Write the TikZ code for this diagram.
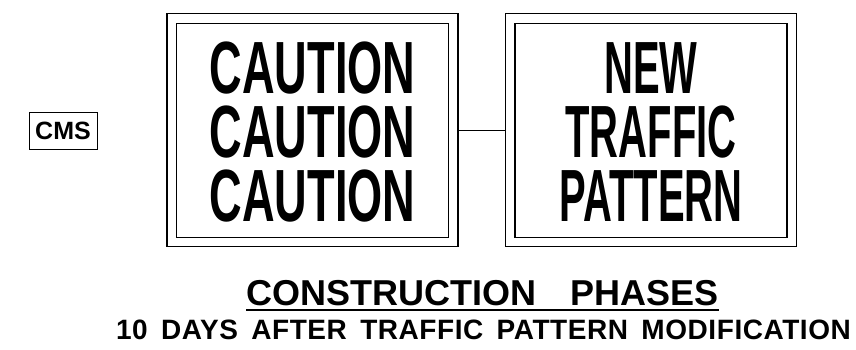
\documentclass[tikz,border=0pt]{standalone}
\usepackage{fontspec}
\setmainfont{Liberation Sans}
\newfontfamily\cadfont[LetterSpace=2, WordSpace=1.6]{Liberation Sans}
\usepackage{tikz}
\usetikzlibrary{positioning}

\begin{document}
\begin{tikzpicture}[
  x=1pt, y=-1pt,
  node distance=47pt,
  sign/.style={draw, double, double distance=8.2pt, line width=1.3pt,
               outer sep=5pt, minimum width=281.5pt, minimum height=223.5pt},
  signtext/.style={align=center, inner sep=0pt,
                   font=\fontsize{74}{64}\selectfont\bfseries},
  cmsbox/.style={draw, line width=1pt, minimum width=68pt, minimum height=37pt,
                 inner sep=0pt, font=\fontsize{25}{25}\selectfont\bfseries},
  link/.style={line width=1pt},
]
\useasboundingbox (0,0) rectangle (856,349);

% message boards
\node[sign] (caution) at (312.5,130.25) {};
\node[sign, right=of caution] (newpattern) {};
\node[signtext, xscale=0.61] (cautiontxt) at ([yshift=-2pt]caution.center)
  {CAUTION\\CAUTION\\CAUTION};
\node[signtext, xscale=0.54] (newpatterntxt) at ([yshift=-2pt]newpattern.center)
  {NEW\\TRAFFIC\\PATTERN};
\draw[link] (caution) -- (newpattern);

\node[cmsbox] (cms) at (63,130.5) {CMS};

% caption
\node[anchor=base, inner sep=0pt, font=\fontsize{36}{36}\selectfont\bfseries]
  (title) at (482.5,305) {CONSTRUCTION\hspace{34pt}PHASES};
\draw[line width=1.8pt] ([yshift=-5pt]title.base west) -- ([yshift=-5pt]title.base east);
\node[anchor=base, inner sep=0pt, font=\fontsize{28}{28}\selectfont\cadfont\bfseries]
  (period) at (483.5,339) {10 DAYS AFTER TRAFFIC PATTERN MODIFICATION};
\end{tikzpicture}
\end{document}
